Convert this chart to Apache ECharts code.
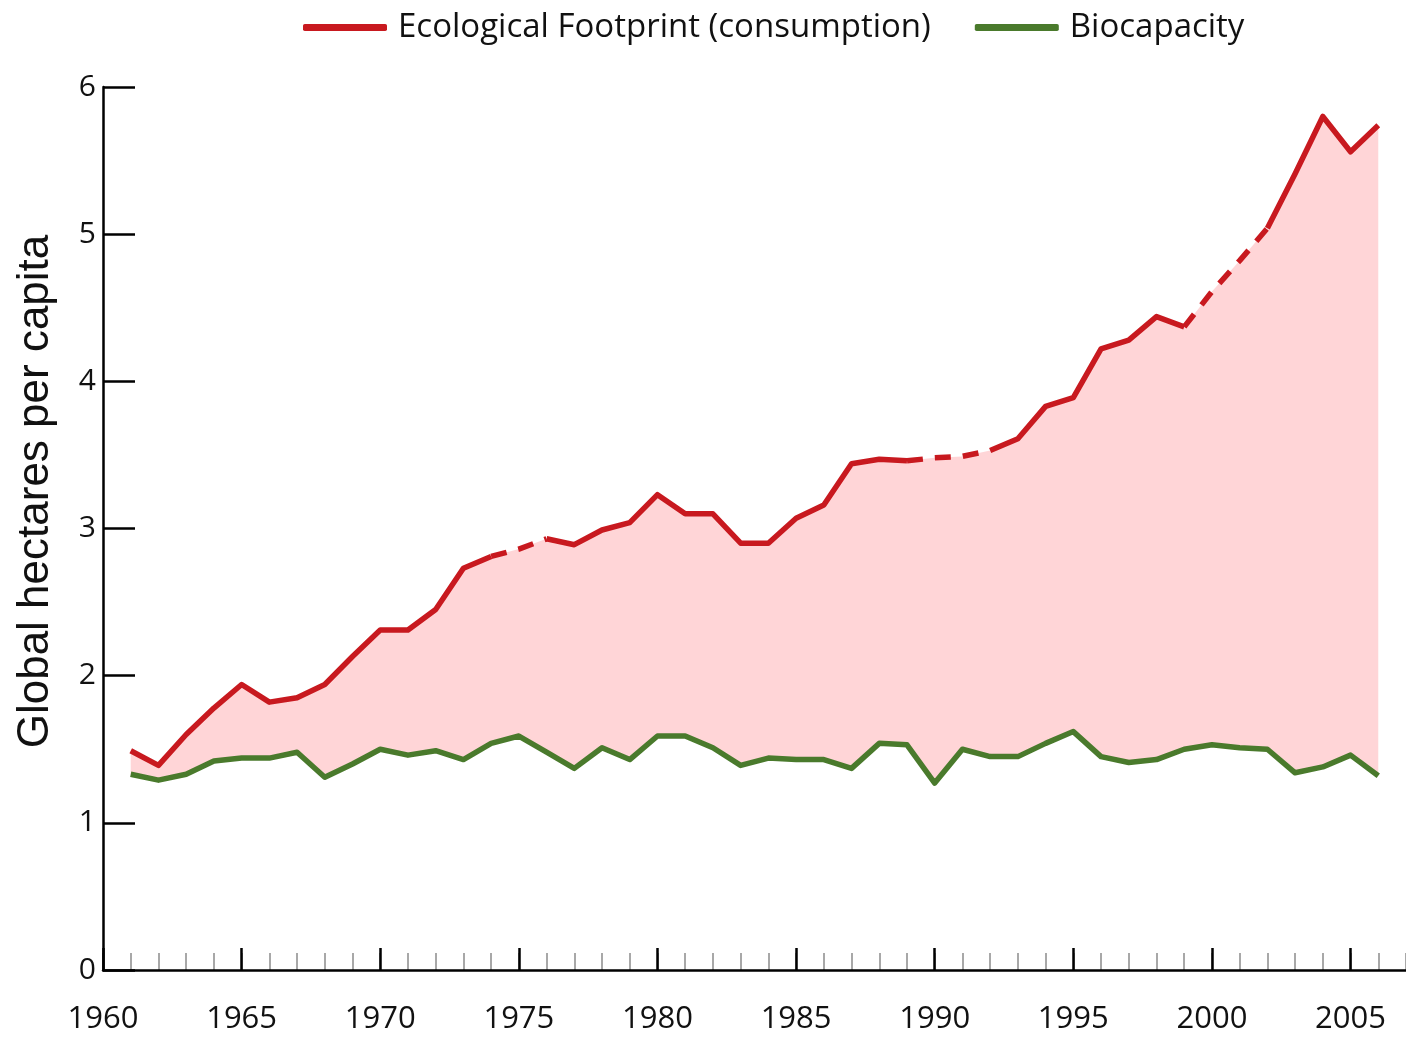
<!DOCTYPE html>
<html>
<head>
<meta charset="utf-8">
<title>Ecological Footprint vs Biocapacity</title>
<script src="https://cdn.jsdelivr.net/npm/echarts@6/dist/echarts.min.js"></script>
<style>
  html, body { margin: 0; padding: 0; background: #fff; }
  #chart { width: 1406px; height: 1039px; }
</style>
</head>
<body>
<div id="chart"></div>
<script>
// 数据：1961-2006 年人均全球公顷
const years = [1961, 1962, 1963, 1964, 1965, 1966, 1967, 1968, 1969, 1970,
  1971, 1972, 1973, 1974, 1975, 1976, 1977, 1978, 1979, 1980,
  1981, 1982, 1983, 1984, 1985, 1986, 1987, 1988, 1989, 1990,
  1991, 1992, 1993, 1994, 1995, 1996, 1997, 1998, 1999, 2000,
  2001, 2002, 2003, 2004, 2005, 2006];
const footprint = [1.49, 1.39, 1.60, 1.78, 1.94, 1.82, 1.85, 1.94, 2.13, 2.31,
  2.31, 2.45, 2.73, 2.81, 2.86, 2.93, 2.89, 2.99, 3.04, 3.23,
  3.10, 3.10, 2.90, 2.90, 3.07, 3.16, 3.44, 3.47, 3.46, 3.48,
  3.49, 3.53, 3.61, 3.83, 3.89, 4.22, 4.28, 4.44, 4.37, 4.61,
  4.82, 5.04, 5.41, 5.80, 5.56, 5.74];
const biocapacity = [1.33, 1.29, 1.33, 1.42, 1.44, 1.44, 1.48, 1.31, 1.40, 1.50,
  1.46, 1.49, 1.43, 1.54, 1.59, 1.48, 1.37, 1.51, 1.43, 1.59,
  1.59, 1.51, 1.39, 1.44, 1.43, 1.43, 1.37, 1.54, 1.53, 1.27,
  1.50, 1.45, 1.45, 1.54, 1.62, 1.45, 1.41, 1.43, 1.50, 1.53,
  1.51, 1.50, 1.34, 1.38, 1.46, 1.32];
// 虚线段（估算年份）
const dashedRanges = [[1974, 1976], [1989, 1992], [1999, 2002]];
const yTicks = [0, 1, 2, 3, 4, 5, 6];

const RED = '#c8191f';
const GREEN = '#4a7a2c';
const PINK = '#ffd5d7';
const FONT = 'Open Sans';

function inDashed(y, inner) {
  return dashedRanges.some(function (r) {
    return inner ? (y > r[0] && y < r[1]) : (y >= r[0] && y <= r[1]);
  });
}

// 实线：虚线段内部的点设为 null
let solidData = years.map(function (y, i) {
  return [y, inDashed(y, true) ? null : footprint[i]];
});
// 虚线：只保留虚线段的点
let dashedData = years.map(function (y, i) {
  return [y, inDashed(y, false) ? footprint[i] : null];
});
let bioData = years.map(function (y, i) { return [y, biocapacity[i]]; });
let bandData = years.map(function (y, i) { return [y, footprint[i], biocapacity[i]]; });

// 两条线之间的粉色区域，用 custom 系列画一个多边形
function renderBand(params, api) {
  if (params.dataIndex !== 0) return;
  let pts = [];
  for (let i = 0; i < years.length; i++) pts.push(api.coord([years[i], footprint[i]]));
  for (let i = years.length - 1; i >= 0; i--) pts.push(api.coord([years[i], biocapacity[i]]));
  return { type: 'polygon', shape: { points: pts }, style: { fill: PINK } };
}

var myChart = echarts.init(document.getElementById('chart'));
var option = {
  animation: false,
  backgroundColor: '#fff',
  grid: { left: 103, right: -4, top: 87, bottom: 69, containLabel: false },
  legend: {
    left: 298,
    top: 6,
    itemGap: 44,
    itemWidth: 84,
    itemHeight: 7,
    icon: 'roundRect',
    data: ['Ecological Footprint (consumption)', 'Biocapacity'],
    textStyle: { fontSize: 33, fontFamily: FONT, color: '#111', padding: [0, 0, 0, 6] }
  },
  xAxis: [
    {
      type: 'value', min: 1960, max: 2007, interval: 5, z: 3,
      axisLine: { onZero: false, lineStyle: { color: '#000', width: 2.5 } },
      axisTick: { inside: true, length: 22, lineStyle: { color: '#000', width: 2.5 } },
      axisLabel: {
        margin: 34, fontSize: 31, fontFamily: FONT, color: '#111', showMaxLabel: false,
        formatter: function (v) { return String(v); }
      },
      splitLine: { show: false }
    },
    {
      type: 'value', min: 1960, max: 2007, interval: 1, position: 'bottom', z: 2,
      axisLine: { show: false, onZero: false },
      axisTick: { inside: true, length: 17, lineStyle: { color: '#a8a8a8', width: 2 } },
      axisLabel: { show: false },
      splitLine: { show: false }
    }
  ],
  yAxis: {
    type: 'value', min: yTicks[0], max: yTicks[yTicks.length - 1], interval: 1, z: 3,
    name: 'Global hectares per capita',
    nameLocation: 'middle',
    nameRotate: 90,
    nameGap: 45,
    nameTextStyle: { fontSize: 44, fontFamily: 'Liberation Sans', color: '#111', padding: [0, 0, 0, 74] },
    axisLine: { lineStyle: { color: '#000', width: 2.5 } },
    axisTick: { inside: true, length: 32, lineStyle: { color: '#000', width: 2.5 } },
    axisLabel: { margin: 7, fontSize: 30, fontFamily: FONT, color: '#111' },
    splitLine: { show: false }
  },
  series: [
    {
      name: 'band', type: 'custom', data: bandData, silent: true, z: 1,
      encode: { x: 0, y: [1, 2] },
      renderItem: renderBand
    },
    {
      name: 'Biocapacity', type: 'line', data: bioData,
      symbol: 'none', color: GREEN,
      lineStyle: { color: GREEN, width: 5.5, join: 'round' }, z: 4
    },
    {
      name: 'Ecological Footprint (consumption)', type: 'line', data: solidData,
      symbol: 'none', connectNulls: false, color: RED,
      lineStyle: { color: RED, width: 5.5, join: 'round' }, z: 5
    },
    {
      name: 'footprint estimated', type: 'line', data: dashedData,
      symbol: 'none', connectNulls: false, color: RED,
      lineStyle: { color: RED, width: 5.5, type: [16, 12] }, z: 5
    }
  ]
};
myChart.setOption(option);
</script>
</body>
</html>
